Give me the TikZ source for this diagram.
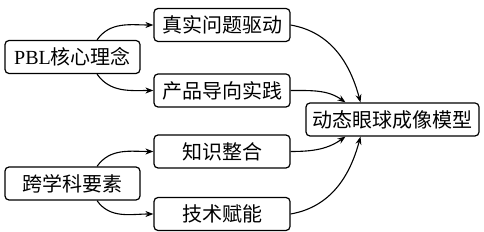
\documentclass[tikz,border=0pt]{standalone}
\usepackage{fontspec}
\setmainfont{Liberation Serif}
\newfontfamily\cjk{Noto Sans CJK SC}
\usetikzlibrary{arrows.meta,calc}
\begin{document}
\begin{tikzpicture}[x=1pt,y=-1pt,
  box/.style={draw=black,line width=1.2pt,rounded corners=4pt,minimum height=33pt,inner sep=0pt,font=\fontsize{20}{21}\selectfont,fill=white},
  small/.style={box,minimum width=136pt},
  arr/.style={line width=1.1pt,-{Stealth[length=8pt,width=6pt]}}]
\useasboundingbox (0,0) rectangle (484,232);
\node[box,minimum width=135pt] (pbl) at (72.5,57) {PBL{\cjk 核心理念}};
\node[box,minimum width=135pt] (kxk) at (72.5,183.5) {\cjk 跨学科要素};
\node[small] (zs) at (222,25) {\cjk 真实问题驱动};
\node[small] (cp) at (222,90.5) {\cjk 产品导向实践};
\node[small] (zh) at (222,151.5) {\cjk 知识整合};
\node[small] (js) at (222,214) {\cjk 技术赋能};
\node[box,minimum width=173pt] (mx) at (392.5,119.5) {\cjk 动态眼球成像模型};
\draw[arr] ($(pbl.north)+(24.5,0)$) to[out=55,in=180] (zs.west);
\draw[arr] ($(pbl.south)+(24.5,0)$) to[out=-55,in=180] (cp.west);
\draw[arr] ($(kxk.north)+(24.5,0)$) to[out=55,in=180] (zh.west);
\draw[arr] ($(kxk.south)+(24.5,0)$) to[out=-55,in=180] (js.west);
\draw[arr] (zs.east) to[out=-10,in=105] ($(mx.north)+(-32,0)$);
\draw[arr] (cp.east) to[out=0,in=145] ($(mx.north)+(-47,0)$);
\draw[arr] (zh.east) to[out=0,in=215] ($(mx.south)+(-47,0)$);
\draw[arr] (js.east) to[out=10,in=-105] ($(mx.south)+(-32,0)$);
\end{tikzpicture}
\end{document}
